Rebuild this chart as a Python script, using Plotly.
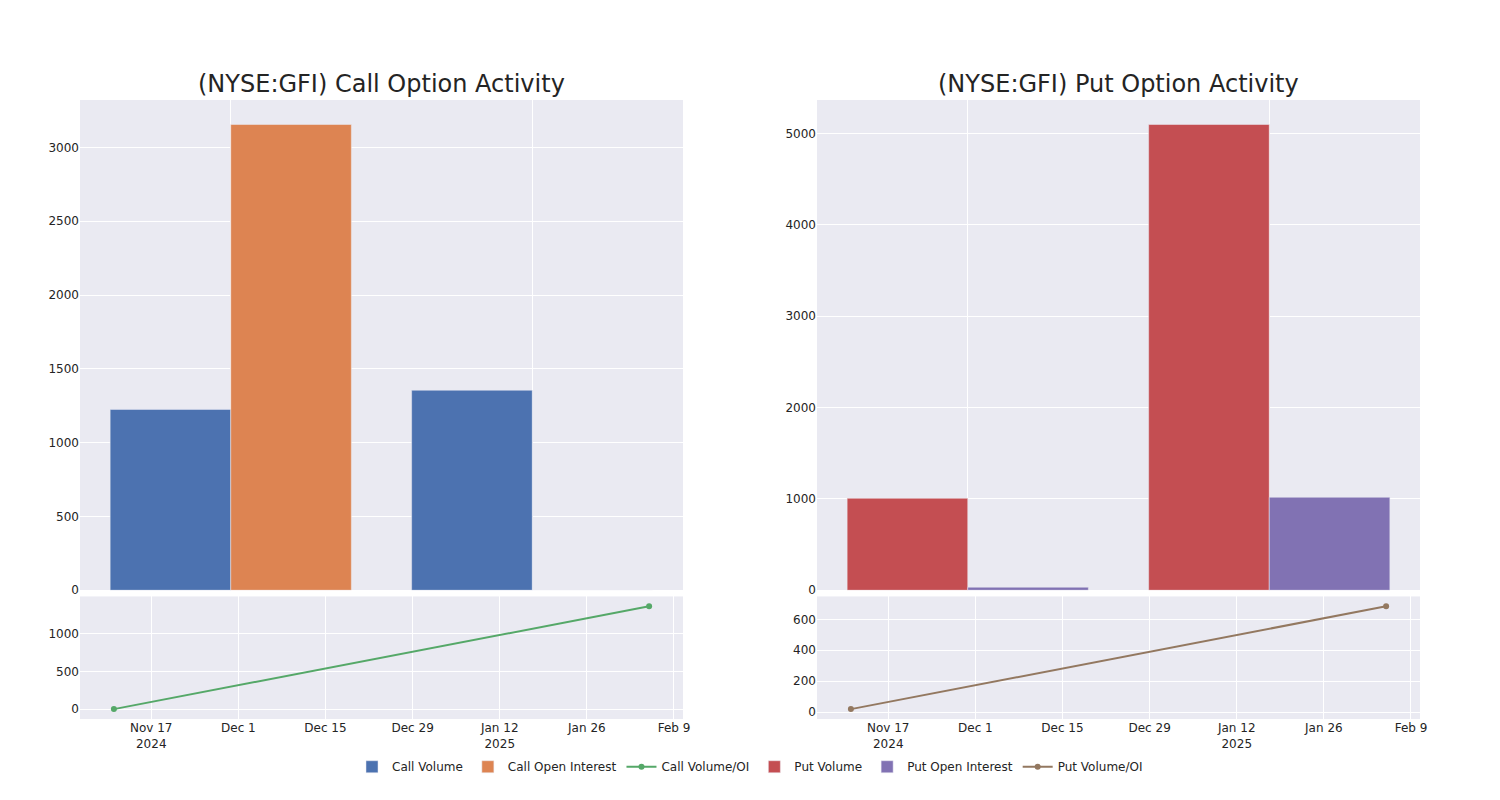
import plotly.graph_objects as go
from plotly.subplots import make_subplots

# Bar chart categories (expiration groups, labels hidden in reference)
categories = ["Group 1", "Group 2"]
call_volume = [1225, 1355]
call_open_interest = [3155, 0]
put_volume = [1007, 5098]
put_open_interest = [33, 1018]

# Volume/OI line data
ratio_dates = ["2024-11-11", "2025-02-05"]
call_vol_oi = [0.39, 1360]
put_vol_oi = [20, 684]

titles = ["(NYSE:GFI) Call Option Activity", "(NYSE:GFI) Put Option Activity"]

fig = make_subplots(
    rows=2, cols=2,
    row_heights=[0.8, 0.2],
    vertical_spacing=0.01,
    horizontal_spacing=0.1,
    subplot_titles=[titles[0], titles[1], "", ""],
)

fig.add_trace(go.Bar(x=categories, y=call_volume, name="Call Volume",
                     marker_color="#4C72B0"), row=1, col=1)
fig.add_trace(go.Bar(x=categories, y=call_open_interest, name="Call Open Interest",
                     marker_color="#DD8452"), row=1, col=1)
fig.add_trace(go.Scatter(x=ratio_dates, y=call_vol_oi, name="Call Volume/OI",
                         mode="lines+markers", line=dict(color="#55A868")), row=2, col=1)
fig.add_trace(go.Bar(x=categories, y=put_volume, name="Put Volume",
                     marker_color="#C44E52"), row=1, col=2)
fig.add_trace(go.Bar(x=categories, y=put_open_interest, name="Put Open Interest",
                     marker_color="#8172B3"), row=1, col=2)
fig.add_trace(go.Scatter(x=ratio_dates, y=put_vol_oi, name="Put Volume/OI",
                         mode="lines+markers", line=dict(color="#937860")), row=2, col=2)

fig.update_xaxes(type="category", showticklabels=False, row=1, col=1)
fig.update_xaxes(type="category", showticklabels=False, row=1, col=2)

for ann in fig.layout.annotations:
    ann.font.size = 24

fig.update_layout(
    template="seaborn",
    font=dict(family="DejaVu Sans"),
    width=1484, height=784,
    barmode="group",
    margin=dict(l=72, r=72, t=92, b=72),
    legend=dict(orientation="h", x=0.5, xanchor="center", y=-0.052, yanchor="top"),
)

fig.write_html("out.html")
